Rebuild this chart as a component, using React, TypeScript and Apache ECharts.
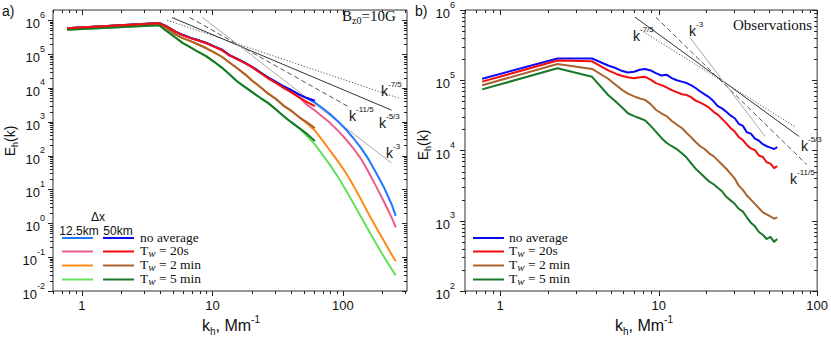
import React, { useEffect, useRef } from 'react';
import * as echarts from 'echarts';

// ---------- Panel a) simulations ----------
const kSim50 = [0.77, 3.9, 4.5, 5.2, 5.9, 6.8, 7.8, 9.0, 10.3, 11.8, 13.5, 15.5, 17.8, 20.4, 23.4, 26.8, 30.7, 35.2, 40.4, 46.3, 53.1, 61];
const kSim12 = [0.77, 3.9, 4.5, 5.2, 5.9, 6.8, 7.8, 9.0, 10.3, 11.8, 13.5, 15.5, 17.8, 20.4, 23.4, 26.8, 30.7, 35.2, 40.4, 46.3, 53.1, 61, 70, 80, 92, 105, 120, 138, 158, 181, 207, 237, 254];

const sim50NoAvg = [5.75e5, 8.3e5, 6.4e5, 4.6e5, 3.7e5, 3.0e5, 2.55e5, 2.12e5, 1.69e5, 1.35e5, 9.3e4, 7.2e4, 5.5e4, 4.07e4, 2.82e4, 2.0e4, 1.51e4, 1.1e4, 8.51e3, 6.31e3, 5.01e3, 4.17e3];
const sim50Tw20 = [5.75e5, 8.13e5, 6.31e5, 4.57e5, 3.63e5, 2.95e5, 2.51e5, 2.09e5, 1.66e5, 1.32e5, 9.12e4, 7.08e4, 5.37e4, 3.98e4, 2.75e4, 1.91e4, 1.41e4, 1.0e4, 7.41e3, 5.25e3, 3.8e3, 2.88e3];
const sim50Tw2 = [5.75e5, 8.1e5, 5.75e5, 3.8e5, 2.95e5, 2.4e5, 1.91e5, 1.48e5, 1.12e5, 8.32e4, 5.62e4, 3.8e4, 2.51e4, 1.58e4, 1.05e4, 6.76e3, 4.68e3, 2.95e3, 2.09e3, 1.35e3, 955, 646];
const sim50Tw5 = [5.25e5, 7.08e5, 4.68e5, 3.09e5, 2.14e5, 1.58e5, 1.15e5, 8.51e4, 5.89e4, 3.98e4, 2.51e4, 1.55e4, 1.05e4, 7.24e3, 5.01e3, 3.55e3, 2.29e3, 1.45e3, 955, 646, 437, 269];

const sim12NoAvg = [5.75e5, 8.3e5, 6.4e5, 4.6e5, 3.7e5, 3.0e5, 2.55e5, 2.12e5, 1.69e5, 1.35e5, 9.3e4, 7.2e4, 5.5e4, 4.07e4, 2.82e4, 2.0e4, 1.51e4, 1.1e4, 8.51e3, 6.31e3, 4.9e3, 3.72e3, 2.51e3, 1.66e3, 1.02e3, 603, 331, 166, 75.9, 29.5, 11.2, 3.55, 1.66];
const sim12Tw20 = [5.75e5, 8.13e5, 6.31e5, 4.57e5, 3.63e5, 2.95e5, 2.51e5, 2.09e5, 1.66e5, 1.32e5, 9.12e4, 7.08e4, 5.37e4, 3.98e4, 2.75e4, 1.91e4, 1.41e4, 1.0e4, 7.41e3, 5.25e3, 3.16e3, 2.14e3, 1.41e3, 912, 537, 309, 166, 79.4, 31.6, 11.7, 4.27, 1.45, 0.759];
const sim12Tw2 = [5.75e5, 8.1e5, 5.75e5, 3.8e5, 2.95e5, 2.4e5, 1.91e5, 1.48e5, 1.12e5, 8.32e4, 5.62e4, 3.8e4, 2.51e4, 1.58e4, 1.05e4, 6.76e3, 4.68e3, 2.95e3, 2.09e3, 1.35e3, 891, 550, 275, 138, 66.1, 31.6, 13.2, 5.01, 1.86, 0.724, 0.295, 0.117, 0.0759];
const sim12Tw5 = [5.25e5, 7.08e5, 4.68e5, 3.09e5, 2.14e5, 1.58e5, 1.15e5, 8.51e4, 5.89e4, 3.98e4, 2.51e4, 1.55e4, 1.05e4, 7.24e3, 5.01e3, 3.55e3, 2.29e3, 1.45e3, 955, 646, 380, 214, 105, 51.3, 22.9, 9.77, 3.98, 1.51, 0.603, 0.24, 0.1, 0.0437, 0.0295];

// power-law guide lines, panel a) (endpoints read from the figure)
const refA75 = [[4.5, 1.0e6], [267, 5.0e3]];
const refA53 = [[4.9, 1.2e6], [236, 2.2e3]];
const refA115 = [[6.7, 1.2e6], [110, 2.8e3]];
const refA3 = [[8.4, 1.2e6], [236, 60]];

// ---------- Panel b) observations ----------
const kObs = [0.77, 2.3, 3.8, 4.8, 5.4, 5.9, 6.4, 7.0, 7.6, 8.2, 8.9, 9.6, 10.4, 11.2, 12.1, 13.0, 14.0, 15.0, 16.0, 17.1, 18.3, 19.5, 20.8, 22.2, 23.6, 25.1, 26.7, 28.4, 30.2, 32.0, 34.0, 36.0, 38.2, 40.5, 42.9, 45.4, 48.0, 50.7, 53.5, 56.0];
const obsNoAvg = [1.05e5, 2.04e5, 2.04e5, 1.62e5, 1.48e5, 1.35e5, 1.29e5, 1.32e5, 1.41e5, 1.45e5, 1.38e5, 1.26e5, 1.17e5, 1.2e5, 1.07e5, 1.0e5, 9.55e4, 9.12e4, 8.51e4, 7.76e4, 6.92e4, 6.31e4, 5.75e4, 5.01e4, 4.27e4, 3.98e4, 3.55e4, 3.16e4, 2.88e4, 2.4e4, 2.24e4, 1.82e4, 1.74e4, 1.48e4, 1.38e4, 1.23e4, 1.15e4, 1.1e4, 1.05e4, 1.12e4];
const obsTw20 = [9.55e4, 1.91e5, 1.86e5, 1.38e5, 1.23e5, 1.15e5, 1.1e5, 1.07e5, 1.1e5, 1.12e5, 1.02e5, 9.12e4, 8.51e4, 7.94e4, 7.24e4, 6.76e4, 6.31e4, 6.17e4, 5.75e4, 5.13e4, 4.79e4, 4.47e4, 4.07e4, 3.55e4, 3.24e4, 2.82e4, 2.45e4, 2.09e4, 1.86e4, 1.55e4, 1.41e4, 1.2e4, 1.07e4, 1.01e4, 8.5e3, 8.1e3, 6.8e3, 6.5e3, 5.6e3, 6.0e3];
const obsTw2 = [8.51e4, 1.7e5, 1.45e5, 1.05e5, 8.51e4, 7.24e4, 6.46e4, 5.89e4, 5.5e4, 5.25e4, 4.57e4, 3.8e4, 3.39e4, 3.09e4, 2.63e4, 2.34e4, 2.09e4, 1.78e4, 1.55e4, 1.32e4, 1.15e4, 1.05e4, 9.12e3, 8.32e3, 7.24e3, 6.31e3, 5.5e3, 4.68e3, 3.98e3, 3.16e3, 2.75e3, 2.29e3, 2.0e3, 1.74e3, 1.51e3, 1.32e3, 1.23e3, 1.15e3, 1.07e3, 1.12e3];
const obsTw5 = [7.41e4, 1.48e5, 1.12e5, 6.17e4, 4.9e4, 4.07e4, 3.39e4, 3.09e4, 2.88e4, 2.69e4, 2.24e4, 1.86e4, 1.51e4, 1.29e4, 1.15e4, 1.05e4, 9.12e3, 7.94e3, 6.61e3, 5.5e3, 4.79e3, 4.17e3, 3.63e3, 3.31e3, 2.95e3, 2.63e3, 2.19e3, 1.95e3, 1.74e3, 1.48e3, 1.35e3, 1.12e3, 933, 832, 692, 631, 550, 589, 501, 550];

const refB75 = [[8.0, 4.9e5], [72, 2.2e4]];
const refB53 = [[7.1, 7.9e5], [77, 1.58e4]];
const refB115 = [[9.6, 7.9e5], [86, 6.3e3]];
const refB3 = [[15.7, 4.1e5], [47, 1.58e4]];

// ---------- axes / ticks ----------
const xRangeA = [0.6, 310];
const yRangeA = [0.01, 2e6];
const xRangeB = [0.6, 100];
const yRangeB = [100, 1e6];
const xMajorTicks = [1, 10, 100];
const xMinorA = [0.6, 0.7, 0.8, 0.9, 2, 3, 4, 5, 6, 7, 8, 9, 20, 30, 40, 50, 60, 70, 80, 90, 200, 300];
const xMinorB = [0.6, 0.7, 0.8, 0.9, 2, 3, 4, 5, 6, 7, 8, 9, 20, 30, 40, 50, 60, 70, 80, 90];
const yDecadesA = [0.01, 0.1, 1, 10, 100, 1e3, 1e4, 1e5, 1e6];
const yDecadesB = [100, 1e3, 1e4, 1e5, 1e6];
const minorMantissas = [2, 3, 4, 5, 6, 7, 8, 9];

const SANS = '"Liberation Sans", Arial, Helvetica, sans-serif';
const SERIF = '"Liberation Serif", "Times New Roman", serif';
const INK = '#111';

const C = {
  blue: '#0a0af5', red: '#f50d0d', brown: '#a9622c', green: '#17782a',
  lblue: '#1f78ff', pink: '#ee5c88', orange: '#ff8a17', lgreen: '#62e05e',
};

const zip = (ks: number[], vs: number[]) => ks.map((k, i) => [k, vs[i]]);

function lineS(name: string, ks: number[], vs: number[], color: string, width: number, gi: number, z: number) {
  return {
    type: 'line', name, xAxisIndex: gi, yAxisIndex: gi, data: zip(ks, vs),
    showSymbol: false, symbol: 'none', silent: true, z,
    lineStyle: { color, width, join: 'round' }, itemStyle: { color },
  };
}

function refS(name: string, pts: number[][], color: string, type: any, gi: number) {
  return {
    type: 'line', name, xAxisIndex: gi, yAxisIndex: gi, data: pts,
    showSymbol: false, symbol: 'none', silent: true, z: 1,
    lineStyle: { color, width: 1, type }, itemStyle: { color },
  };
}

function tickSeries(gi: number, xMajor: number[], xMinor: number[], yDecades: number[], xRef: number, yRef: number, yMax: number) {
  const data: number[][] = [];
  xMajor.forEach((v) => data.push([v, yRef, 0, 1]));
  xMinor.forEach((v) => data.push([v, yRef, 0, 0]));
  yDecades.forEach((d) => {
    data.push([xRef, d, 1, 1]);
    minorMantissas.forEach((m) => { if (m * d < yMax * 0.999) data.push([xRef, m * d, 1, 0]); });
  });
  return {
    type: 'custom', xAxisIndex: gi, yAxisIndex: gi, silent: true, z: 20, data,
    renderItem: (params: any, api: any) => {
      const cs = params.coordSys;
      const isY = api.value(2) === 1;
      const len = api.value(3) === 1 ? 5 : 3;
      const p = api.coord([api.value(0), api.value(1)]);
      const style = { stroke: '#222', lineWidth: 1 };
      if (!isY) {
        const x = Math.round(p[0]) + 0.5;
        const b = cs.y + cs.height;
        const t = cs.y;
        return {
          type: 'group', children: [
            { type: 'line', shape: { x1: x, y1: b, x2: x, y2: b + len }, style },
            { type: 'line', shape: { x1: x, y1: t, x2: x, y2: t + len }, style },
          ],
        };
      }
      const y = Math.round(p[1]) + 0.5;
      const l = cs.x;
      const r = cs.x + cs.width;
      return {
        type: 'group', children: [
          { type: 'line', shape: { x1: l - len, y1: y, x2: l, y2: y }, style },
          { type: 'line', shape: { x1: r - len, y1: y, x2: r, y2: y }, style },
        ],
      };
    },
  };
}

const isPow10 = (v: number) => Math.abs(Math.log10(v) - Math.round(Math.log10(v))) < 1e-6;

const yLabelRich = {
  b: { fontFamily: SANS, fontSize: 13, color: INK, lineHeight: 20, verticalAlign: 'bottom' },
  s: { fontFamily: SANS, fontSize: 9, color: INK, lineHeight: 12, verticalAlign: 'top' },
};

function xAxisCfg(gi: number, range: number[]) {
  return {
    type: 'log', logBase: 10, gridIndex: gi, min: range[0], max: range[1],
    axisLine: { show: false }, axisTick: { show: false }, splitLine: { show: false },
    axisLabel: {
      margin: 8, fontFamily: SANS, fontSize: 13, color: INK,
      formatter: (v: number) => (isPow10(v) ? String(Math.round(v)) : ''),
    },
  };
}

function yAxisCfg(gi: number, range: number[], margin: number) {
  return {
    type: 'log', logBase: 10, gridIndex: gi, min: range[0], max: range[1],
    axisLine: { show: false }, axisTick: { show: false }, splitLine: { show: false },
    axisLabel: {
      margin, color: INK, rich: yLabelRich,
      formatter: (v: number) => (isPow10(v) ? `{b|10}{s|${Math.round(Math.log10(v))}}` : ''),
    },
  };
}

// rich text helpers for graphic texts
const kRich = {
  k: { fontFamily: SANS, fontSize: 14, fill: INK, lineHeight: 18, verticalAlign: 'bottom' },
  s: { fontFamily: SANS, fontSize: 8, fill: INK, lineHeight: 10, verticalAlign: 'top' },
};
const titleRich = {
  b: { fontFamily: SANS, fontSize: 16, fill: INK, lineHeight: 22, verticalAlign: 'middle' },
  sub: { fontFamily: SANS, fontSize: 10, fill: INK, lineHeight: 10, verticalAlign: 'bottom' },
  sup: { fontFamily: SANS, fontSize: 10, fill: INK, lineHeight: 10, verticalAlign: 'top' },
};
const eRich = {
  b: { fontFamily: SANS, fontSize: 14, fill: INK, lineHeight: 18, verticalAlign: 'middle' },
  sub: { fontFamily: SANS, fontSize: 9, fill: INK, lineHeight: 8, verticalAlign: 'bottom' },
};
const serifRich = {
  t: { fontFamily: SERIF, fontSize: 13.5, fill: INK, lineHeight: 15, verticalAlign: 'middle' },
  w: { fontFamily: SERIF, fontSize: 11, fontStyle: 'italic', fill: INK, lineHeight: 8, verticalAlign: 'bottom' },
};
const bRich = {
  t: { fontFamily: SERIF, fontSize: 15, fill: INK, lineHeight: 18, verticalAlign: 'middle' },
  z: { fontFamily: SERIF, fontSize: 10, fill: INK, lineHeight: 8, verticalAlign: 'bottom' },
};

function rtext(x: number, y: number, text: string, rich: any, align = 'left', extra: any = {}) {
  return {
    type: 'text', x, y, z: 50, silent: true, ...extra,
    style: { text, rich, align, textAlign: align, verticalAlign: 'middle', textVerticalAlign: 'middle', fill: INK },
  };
}
function ptext(x: number, y: number, text: string, font: string, size: number, align = 'left') {
  return {
    type: 'text', x, y, z: 50, silent: true,
    style: { text, fontFamily: font, fontSize: size, fill: INK, align, textAlign: align, verticalAlign: 'middle', textVerticalAlign: 'middle' },
  };
}
function seg(x1: number, x2: number, y: number, color: string) {
  return { type: 'line', z: 50, silent: true, shape: { x1, y1: y, x2, y2: y }, style: { stroke: color, lineWidth: 2 } };
}

const legendLabels = ['{t|no average}', '{t|T}{w|w}{t| = 20s}', '{t|T}{w|w}{t| = 2 min}', '{t|T}{w|w}{t| = 5 min}'];
const legendRowsY = [238, 251.5, 265.5, 279.5];

function buildOption() {
  const graphic: any[] = [
    ptext(2, 11, 'a)', SANS, 14),
    ptext(415, 11, 'b)', SANS, 14),
    rtext(342, 16, '{t|B}{z|z0}{t|=10G}', bRich),
    ptext(733, 25, 'Observations', SERIF, 15),
    // guide line labels, panel a
    rtext(381, 89, '{k|k}{s|-7/5}', kRich),
    rtext(349, 114, '{k|k}{s|-11/5}', kRich),
    rtext(379, 121, '{k|k}{s|-5/3}', kRich),
    rtext(386, 151, '{k|k}{s|-3}', kRich),
    // guide line labels, panel b
    rtext(633, 34, '{k|k}{s|-7/5}', kRich),
    rtext(689, 29, '{k|k}{s|-3}', kRich),
    rtext(801, 144, '{k|k}{s|-5/3}', kRich),
    rtext(790, 177, '{k|k}{s|-11/5}', kRich),
    // axis titles
    rtext(231, 325, '{b|k}{sub|h}{b|, Mm}{sup|-1}', titleRich, 'center'),
    rtext(644, 325, '{b|k}{sub|h}{b|, Mm}{sup|-1}', titleRich, 'center'),
    rtext(10, 141, '{b|E}{sub|h}{b|(k)}', eRich, 'center', { rotation: Math.PI / 2 }),
    rtext(423, 145, '{b|E}{sub|h}{b|(k)}', eRich, 'center', { rotation: Math.PI / 2 }),
    // legend panel a
    ptext(98, 217, 'Δx', SANS, 12, 'center'),
    ptext(79, 231, '12.5km', SANS, 12, 'center'),
    ptext(118, 231, '50km', SANS, 12, 'center'),
  ];
  const lightCols = [C.lblue, C.pink, C.orange, C.lgreen];
  const darkCols = [C.blue, C.red, C.brown, C.green];
  legendRowsY.forEach((y, i) => {
    graphic.push(seg(62, 93, y, lightCols[i]));
    graphic.push(seg(103, 134, y, darkCols[i]));
    graphic.push(rtext(140, y - 1, legendLabels[i], serifRich));
    graphic.push(seg(473, 504, y, darkCols[i]));
    graphic.push(rtext(509, y - 1, legendLabels[i], serifRich));
  });

  return {
    animation: false,
    backgroundColor: '#ffffff',
    grid: [
      { left: 53, top: 10, width: 354, height: 281, show: true, borderColor: '#333', borderWidth: 1, backgroundColor: 'transparent' },
      { left: 465, top: 10, width: 356, height: 281, show: true, borderColor: '#333', borderWidth: 1, backgroundColor: 'transparent' },
    ],
    xAxis: [xAxisCfg(0, xRangeA), xAxisCfg(1, xRangeB)],
    yAxis: [yAxisCfg(0, yRangeA, 8), yAxisCfg(1, yRangeB, 10)],
    series: [
      refS('k-7/5', refA75, '#555', [1.2, 1.8], 0),
      refS('k-5/3', refA53, '#333', 'solid', 0),
      refS('k-11/5', refA115, '#555', [5, 3], 0),
      refS('k-3', refA3, '#a8a8a8', 'solid', 0),
      lineS('12.5km no average', kSim12, sim12NoAvg, C.lblue, 2, 0, 2),
      lineS('12.5km Tw=20s', kSim12, sim12Tw20, C.pink, 2, 0, 2),
      lineS('12.5km Tw=2min', kSim12, sim12Tw2, C.orange, 2, 0, 2),
      lineS('12.5km Tw=5min', kSim12, sim12Tw5, C.lgreen, 2, 0, 2),
      lineS('50km no average', kSim50, sim50NoAvg, C.blue, 2, 0, 3),
      lineS('50km Tw=20s', kSim50, sim50Tw20, C.red, 2, 0, 4),
      lineS('50km Tw=2min', kSim50, sim50Tw2, C.brown, 2, 0, 3),
      lineS('50km Tw=5min', kSim50, sim50Tw5, C.green, 2, 0, 3),
      refS('obs k-7/5', refB75, '#555', [1.2, 1.8], 1),
      refS('obs k-5/3', refB53, '#333', 'solid', 1),
      refS('obs k-11/5', refB115, '#555', [5, 3], 1),
      refS('obs k-3', refB3, '#a8a8a8', 'solid', 1),
      lineS('obs no average', kObs, obsNoAvg, C.blue, 2, 1, 3),
      lineS('obs Tw=20s', kObs, obsTw20, C.red, 2, 1, 3),
      lineS('obs Tw=2min', kObs, obsTw2, C.brown, 2, 1, 3),
      lineS('obs Tw=5min', kObs, obsTw5, C.green, 2, 1, 3),
      tickSeries(0, xMajorTicks, xMinorA, yDecadesA, 1, 1, yRangeA[1]),
      tickSeries(1, xMajorTicks, xMinorB, yDecadesB, 1, 1000, yRangeB[1]),
    ],
    graphic,
  };
}

export default function App() {
  const ref = useRef<HTMLDivElement>(null);
  useEffect(() => {
    if (!ref.current) return;
    const chart = echarts.init(ref.current, null, { renderer: 'svg' });
    chart.setOption(buildOption() as any);
    return () => chart.dispose();
  }, []);
  return (
    <div
      ref={ref}
      style={{ position: 'fixed', left: 0, top: 0, width: 831, height: 341, background: '#fff' }}
    />
  );
}
